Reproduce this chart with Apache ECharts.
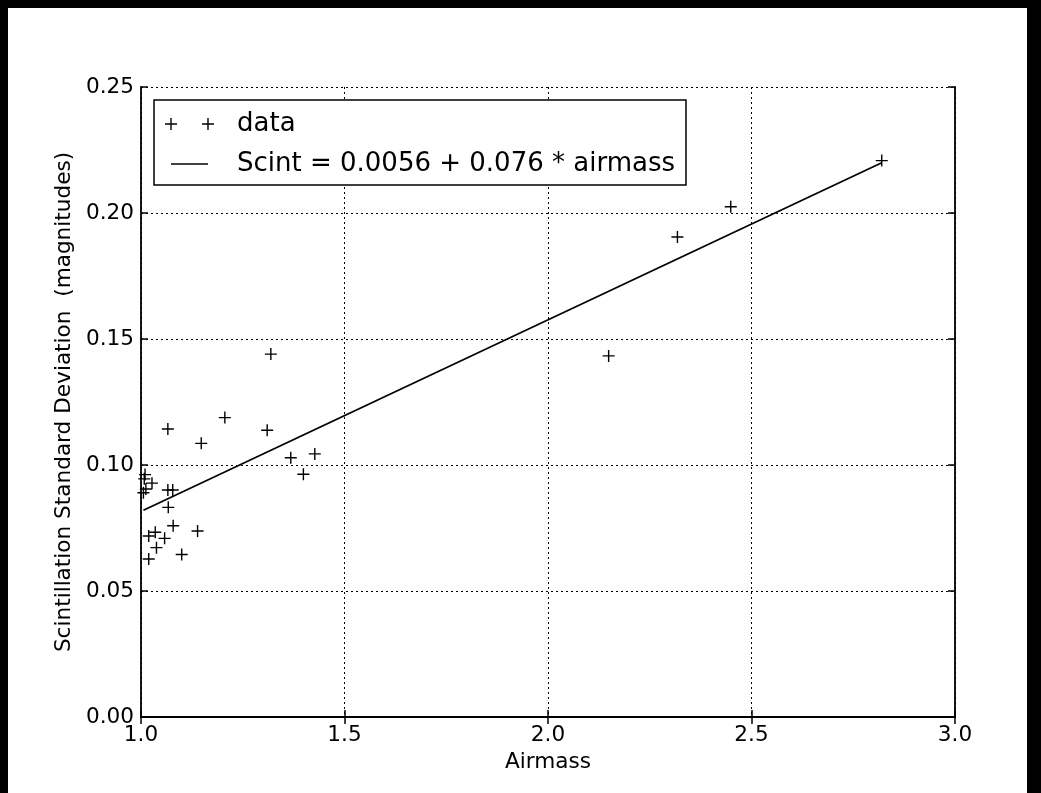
<!DOCTYPE html>
<html>
<head>
<meta charset="utf-8">
<script src="https://cdn.jsdelivr.net/npm/echarts@6/dist/echarts.min.js"></script>
<style>
  html, body { margin: 0; padding: 0; background: #000; width: 1041px; height: 793px; overflow: hidden; }
  #chart { position: absolute; left: 8px; top: 8px; width: 1019px; height: 785px; background: #fff; }
</style>
</head>
<body>
<div id="chart"></div>
<script>
// Measured scintillation scatter vs airmass
const airmass = [2.820, 2.449, 2.318, 2.149, 1.319, 1.066, 1.148, 1.206, 1.310, 1.368,
                 1.427, 1.399, 1.010, 1.008, 1.027, 1.012, 1.006, 1.066, 1.078, 1.067,
                 1.079, 1.139, 1.035, 1.019, 1.058, 1.038, 1.100, 1.019];
const scint   = [0.2208, 0.2025, 0.1905, 0.1433, 0.1440, 0.1143, 0.1086, 0.1188, 0.1138, 0.1029,
                 0.1044, 0.0963, 0.0962, 0.0945, 0.0928, 0.0905, 0.0890, 0.0901, 0.0901, 0.0832,
                 0.0759, 0.0738, 0.0733, 0.0718, 0.0709, 0.0672, 0.0645, 0.0627];

// Linear fit coefficients shown in the legend
const fitIntercept = 0.0056;
const fitSlope = 0.076;

const xTicks = [1.0, 1.5, 2.0, 2.5, 3.0];
const yTicks = [0.00, 0.05, 0.10, 0.15, 0.20, 0.25];

const seriesNames = ['data', 'Scint = 0.0056 + 0.076 * airmass'];

const points = airmass.map((a, i) => [a, scint[i]]);
const xMin = Math.min(...airmass), xMax = Math.max(...airmass);
const fitLine = [[xMin, fitIntercept + fitSlope * xMin], [xMax, fitIntercept + fitSlope * xMax]];

const FONT = 'DejaVu Sans';
const PLUS = 'path://M0,5.3h12v1.4h-12z M5.3,0h1.4v12h-1.4z';
const LEGEND_PLUS = 'path://M0,5.3h12v1.4h-12z M5.3,0h1.4v12h-1.4z M37,5.3h12v1.4h-12z M42.3,0h1.4v12h-1.4z M67,0 M67,12';
const LEGEND_LINE = 'path://M0,0 M6,5.3h37v1.4h-37z M67,12';

const frame = { show: true, lineStyle: { color: '#000', width: 1.8 } };
const ticks = { show: true, inside: true, length: 7, lineStyle: { color: '#000', width: 1.5 } };
const dotted = { show: true, lineStyle: { color: '#000', width: 1, type: [2, 3] } };

const chart = echarts.init(document.getElementById('chart'), null, { renderer: 'canvas' });
chart.setOption({
  animation: false,
  backgroundColor: '#fff',
  grid: { left: 133, right: 72, top: 79, bottom: 76, containLabel: false },
  legend: {
    orient: 'vertical',
    left: 146, top: 92,
    padding: [9, 11, 6, 11],
    itemGap: 10,
    itemWidth: 67, itemHeight: 12,
    borderColor: '#000', borderWidth: 1.5, borderRadius: 0,
    backgroundColor: '#fff',
    textStyle: { fontFamily: FONT, fontSize: 26, color: '#000', lineHeight: 30 },
    data: [
      { name: seriesNames[0], icon: LEGEND_PLUS, itemStyle: { color: '#000', borderWidth: 0 } },
      { name: seriesNames[1], icon: LEGEND_LINE, itemStyle: { color: '#000', borderWidth: 0 } }
    ]
  },
  xAxis: [
    {
      type: 'value', min: xTicks[0], max: xTicks[xTicks.length - 1], interval: 0.5,
      name: 'Airmass', nameLocation: 'middle', nameGap: 32,
      nameTextStyle: { fontFamily: FONT, fontSize: 21.6, color: '#000' },
      axisLine: frame, axisTick: ticks, splitLine: dotted,
      axisLabel: { margin: 7, fontFamily: FONT, fontSize: 21.6, color: '#000', formatter: v => v.toFixed(1) }
    },
    {
      type: 'value', position: 'top', min: xTicks[0], max: xTicks[xTicks.length - 1], interval: 0.5,
      axisLine: frame, axisTick: ticks, splitLine: { show: false }, axisLabel: { show: false }
    }
  ],
  yAxis: [
    {
      type: 'value', min: yTicks[0], max: yTicks[yTicks.length - 1], interval: 0.05,
      name: 'Scintillation Standard Deviation  (magnitudes)', nameLocation: 'middle', nameGap: 62,
      nameTextStyle: { fontFamily: FONT, fontSize: 21.6, color: '#000' },
      axisLine: frame, axisTick: ticks, splitLine: dotted,
      axisLabel: { margin: 7, fontFamily: FONT, fontSize: 21.6, color: '#000', formatter: v => v.toFixed(2) }
    },
    {
      type: 'value', position: 'right', min: yTicks[0], max: yTicks[yTicks.length - 1], interval: 0.05,
      axisLine: frame, axisTick: ticks, splitLine: { show: false }, axisLabel: { show: false }
    }
  ],
  series: [
    {
      name: seriesNames[0], type: 'scatter', xAxisIndex: 0, yAxisIndex: 0,
      data: points, symbol: PLUS, symbolSize: 12,
      itemStyle: { color: '#000', opacity: 1 }, z: 3
    },
    {
      name: seriesNames[1], type: 'line', xAxisIndex: 0, yAxisIndex: 0,
      data: fitLine, symbol: 'none', showSymbol: false,
      lineStyle: { color: '#000', width: 1.8 }, itemStyle: { color: '#000' }, z: 4
    }
  ]
});
</script>
</body>
</html>
